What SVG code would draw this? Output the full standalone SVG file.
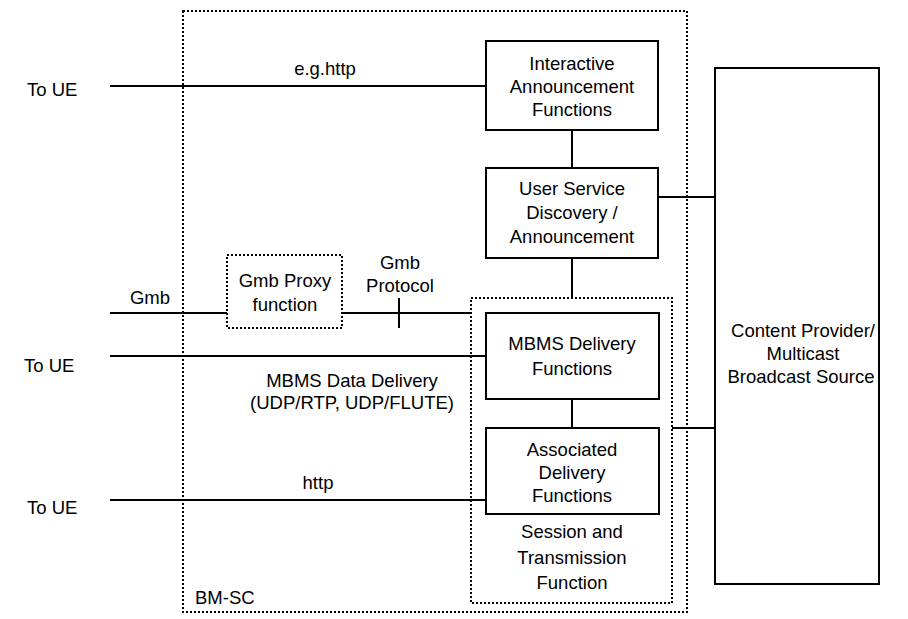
<svg xmlns="http://www.w3.org/2000/svg" width="908" height="619" viewBox="0 0 908 619">
<style>
text{font-family:"Liberation Sans",Arial,sans-serif;font-size:18.5px;fill:#000}
.c{text-anchor:middle}
.box{fill:#fff;stroke:#000;stroke-width:2}
.dot{fill:none;stroke:#000;stroke-width:2;stroke-dasharray:2 2}
.ln{stroke:#000;stroke-width:2;fill:none}
</style>
<rect width="908" height="619" fill="#fff"/>
<g id="bmsc">
<rect class="dot" x="183" y="11" width="504" height="601"/>
<text x="195" y="604">BM-SC</text>
</g>
<g id="connectors">
<line class="ln" x1="110" y1="86" x2="486" y2="86"/>
<line class="ln" x1="110" y1="313" x2="227" y2="313"/>
<line class="ln" x1="342" y1="313" x2="471" y2="313"/>
<line class="ln" x1="399" y1="298" x2="399" y2="328"/>
<line class="ln" x1="110" y1="356" x2="486" y2="356"/>
<line class="ln" x1="110" y1="500" x2="486" y2="500"/>
<line class="ln" x1="572" y1="130" x2="572" y2="168"/>
<line class="ln" x1="572" y1="258" x2="572" y2="298"/>
<line class="ln" x1="572" y1="399" x2="572" y2="428"/>
<line class="ln" x1="658" y1="197" x2="715" y2="197"/>
<line class="ln" x1="672" y1="428" x2="715" y2="428"/>
</g>
<g id="labels">
<text x="27" y="96">To UE</text>
<text x="24" y="372">To UE</text>
<text x="27" y="514">To UE</text>
<text x="150" y="304" class="c">Gmb</text>
<text x="325" y="75" class="c">e.g.http</text>
<text x="400" y="269" class="c">Gmb</text>
<text x="400" y="292" class="c">Protocol</text>
<text x="352" y="387" class="c">MBMS Data Delivery</text>
<text x="352" y="409" class="c">(UDP/RTP, UDP/FLUTE)</text>
<text x="318" y="489" class="c">http</text>
</g>
<g id="interactive">
<rect class="box" x="486" y="41" width="172" height="89"/>
<text x="572" y="70" class="c">Interactive</text>
<text x="572" y="93" class="c">Announcement</text>
<text x="572" y="116" class="c">Functions</text>
</g>
<g id="usd">
<rect class="box" x="486" y="168" width="172" height="90"/>
<text x="572" y="195" class="c">User Service</text>
<text x="572" y="219" class="c">Discovery /</text>
<text x="572" y="243" class="c">Announcement</text>
</g>
<g id="gmbproxy">
<rect class="dot" x="227" y="255" width="115" height="73"/>
<text x="285" y="287" class="c">Gmb Proxy</text>
<text x="285" y="311" class="c">function</text>
</g>
<g id="stf">
<rect class="dot" x="471" y="298" width="201" height="305" stroke-width="1.5"/>
<text x="572" y="538" class="c">Session and</text>
<text x="572" y="564" class="c">Transmission</text>
<text x="572" y="589" class="c">Function</text>
</g>
<g id="mbmsdelivery">
<rect class="box" x="486" y="313" width="173" height="86"/>
<text x="572" y="350" class="c">MBMS Delivery</text>
<text x="572" y="375" class="c">Functions</text>
</g>
<g id="associated">
<rect class="box" x="486" y="428" width="173" height="86"/>
<text x="572" y="456" class="c">Associated</text>
<text x="572" y="479" class="c">Delivery</text>
<text x="572" y="502" class="c">Functions</text>
</g>
<g id="contentprovider">
<rect class="box" x="715" y="68" width="164" height="516"/>
<text x="803" y="337" class="c">Content Provider/</text>
<text x="803" y="360" class="c">Multicast</text>
<text x="801" y="383" class="c">Broadcast Source</text>
</g>
</svg>
